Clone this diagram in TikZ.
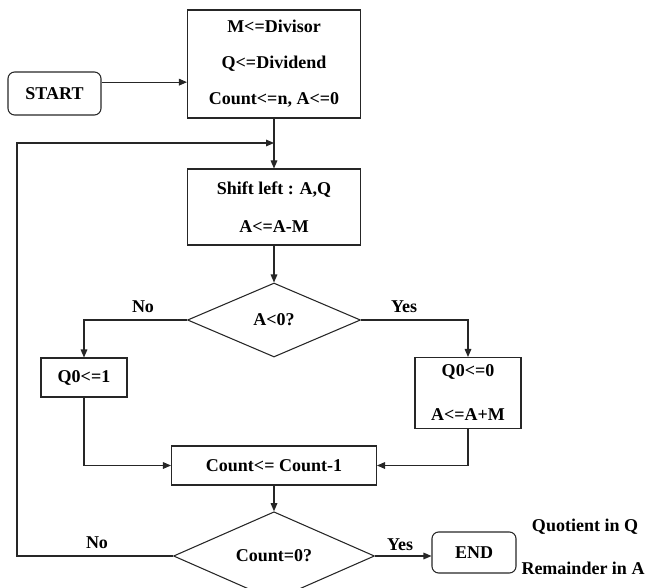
\documentclass[tikz,border=0pt]{standalone}
\usepackage{fontspec}
\setmainfont{Liberation Serif}
\usetikzlibrary{shapes.geometric,arrows.meta}
\begin{document}
\begin{tikzpicture}[x=0.75pt,y=-0.75pt,
  every node/.style={font=\fontsize{13.5}{16}\selectfont\bfseries, text=black},
  box/.style={draw=black!85, line width=0.8pt, inner sep=0pt, align=center},
  rbox/.style={box, rounded corners=5pt},
  dia/.style={draw=black!85, diamond, line width=0.8pt, inner sep=0pt},
  lbl/.style={inner sep=0pt},
  arr/.style={draw=black!85, line width=0.8pt, -{Triangle[length=6pt,width=5pt]}},
  ln/.style={draw=black!85, line width=0.8pt}]
\useasboundingbox (0,0) rectangle (646,588);

\node[rbox, minimum width=93*0.75pt, minimum height=43*0.75pt] (start) at (54.5,93.5) {START};
\node[box, minimum width=173*0.75pt, minimum height=108*0.75pt,
      font=\fontsize{13.5}{27}\selectfont\bfseries] (top) at (274,64)
      {M<=Divisor\\Q<=Dividend\\Count<=n, A<=0};
\node[box, minimum width=173*0.75pt, minimum height=76*0.75pt,
      font=\fontsize{13.5}{29}\selectfont\bfseries] (shift) at (274,207)
      {Shift left : A,Q\\A<=A-M};
\node[dia, minimum width=173*0.75pt, minimum height=74*0.75pt] (d1) at (274,320) {A<0?};
\node[box, minimum width=86*0.75pt, minimum height=39*0.75pt] (q1) at (84,377.5) {Q0<=1};
\node[box, minimum width=106*0.75pt, minimum height=71*0.75pt,
      font=\fontsize{13.5}{33}\selectfont\bfseries] (q0) at (468,393) {Q0<=0\\A<=A+M};
\node[box, minimum width=205*0.75pt, minimum height=39*0.75pt] (count) at (274,465.5) {Count<= Count-1};
\node[dia, minimum width=201*0.75pt, minimum height=72*0.75pt] (d2) at (274,556) {Count=0?};
\node[rbox, minimum width=84*0.75pt, minimum height=41*0.75pt] (end) at (474,552.5) {END};

\node[lbl] (quot) at (585,527) {Quotient in Q};
\node[lbl] (rem) at (583,568) {Remainder in A};
\node[lbl] (no1) at (143,307) {No};
\node[lbl] (yes1) at (404,307) {Yes};
\node[lbl] (no2) at (97,543) {No};
\node[lbl] (yes2) at (400,545) {Yes};

\coordinate (lc) at (17,556);
\coordinate (lt) at (17,143);

\draw[arr] ([yshift=8.5pt]start.east) -- ([yshift=8.5pt]start.east -| top.west);
\draw[arr] (top.south) -- (shift.north);
\draw[arr] (d2.west) -- (lc) -- (lt) -- (lt -| top.south);
\draw[arr] (shift.south) -- (d1.north);
\draw[arr] (d1.west) -| (q1.north);
\draw[arr] (d1.east) -| (q0.north);
\draw[arr] (q1.south) |- (count.west);
\draw[arr] (q0.south) |- (count.east);
\draw[arr] (count.south) -- (d2.north);
\draw[arr] (d2.east) -- (d2.east -| end.west);
\end{tikzpicture}
\end{document}
